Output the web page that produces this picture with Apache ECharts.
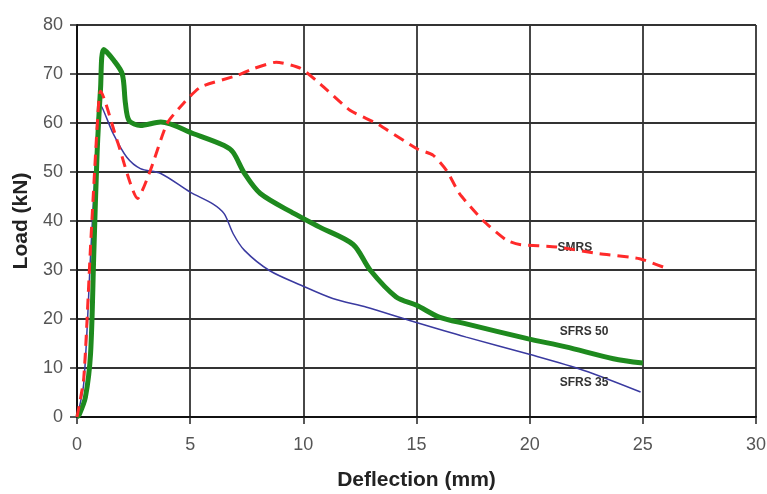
<!DOCTYPE html>
<html>
<head>
<meta charset="utf-8">
<script src="https://cdn.jsdelivr.net/npm/echarts@6/dist/echarts.min.js"></script>
<style>
  html, body { margin: 0; padding: 0; background: #fff; }
  #chart { width: 767px; height: 494px; }
</style>
</head>
<body>
<div id="chart"></div>
<script>
// deflection (mm), load (kN)
var sfrs35 = [
  [0, 0], [0.3, 7], [0.6, 33], [0.85, 54], [1.02, 63.8], [1.6, 57.8], [2.2, 53],
  [2.8, 50.7], [3.7, 49.7], [5.0, 45.9], [6.0, 43.5], [6.5, 41.5], [6.9, 37.4],
  [7.4, 34], [8.5, 29.9], [9.9, 26.9], [11.3, 24.2], [12.8, 22.4], [14.7, 19.7],
  [17.2, 16.3], [19.9, 12.9], [22.4, 9.5], [24.9, 5.1]
];
var sfrs50 = [
  [0, 0], [0.1, 0.5], [0.37, 4], [0.6, 13], [0.74, 33], [0.89, 54], [1.04, 67],
  [1.18, 75], [1.62, 72.8], [2.0, 70], [2.14, 64], [2.3, 60.5], [2.8, 59.5],
  [3.7, 60.2], [5.15, 57.8], [6.5, 55.4], [6.9, 54], [7.4, 49.7], [8.1, 45.6],
  [9.6, 41.5], [10.7, 38.8], [12.2, 35.2], [12.95, 30], [14.1, 24.5], [15.0, 22.8],
  [16.0, 20.4], [17.2, 19], [19.9, 16], [21.6, 14.3], [23.7, 11.9], [25.0, 11.0]
];
var smrs = [
  [0, 0], [0.3, 8], [0.6, 35], [0.9, 60], [1.04, 66.5], [1.8, 56], [2.68, 44.6],
  [3.24, 50.3], [3.98, 59.9], [4.7, 64], [5.45, 67.3], [7.07, 69.7], [7.8, 71.1],
  [8.8, 72.4], [9.86, 71.2], [10.74, 68], [12.06, 62.6], [13.24, 59.9], [15.0, 54.8],
  [15.74, 53.4], [16.33, 50.3], [16.9, 45.6], [17.94, 40.1], [18.97, 36.1],
  [19.56, 35.2], [21.18, 34.7], [23.09, 33.3], [24.86, 32.3], [25.9, 30.6]
];
var seriesNames = ['SFRS 35', 'SFRS 50', 'SMRS'];
var labelAt = [[22.4, 7.1], [22.4, 17.5], [22.0, 34.6]];
var xTicks = [0, 30, 5];
var yTicks = [0, 80, 10];

var chart = echarts.init(document.getElementById('chart'));

function tag(i) {
  return {
    symbol: 'circle', symbolSize: 0, silent: true,
    label: {
      show: true, position: 'inside', color: '#333', fontSize: 12,
      fontWeight: 'bold', fontFamily: 'Liberation Sans', formatter: seriesNames[i]
    },
    data: [{ coord: labelAt[i] }]
  };
}

var axisLabel = { color: '#555', fontSize: 18, fontFamily: 'Liberation Sans' };
var axisName = { color: '#222', fontSize: 21, fontWeight: 'bold', fontFamily: 'Liberation Sans' };

chart.setOption({
  animation: false,
  grid: { left: 77, top: 25, right: 11, bottom: 77, outerBoundsMode: 'none', containLabel: false },
  xAxis: {
    type: 'value', min: xTicks[0], max: xTicks[1], interval: xTicks[2],
    name: 'Deflection (mm)', nameLocation: 'middle', nameGap: 53, nameTextStyle: axisName,
    axisLine: { lineStyle: { color: '#111', width: 2 } },
    axisTick: { show: true, length: 7, lineStyle: { color: '#222', width: 1.5 } },
    axisLabel: Object.assign({ margin: 19 }, axisLabel),
    splitLine: { lineStyle: { color: '#333', width: 1.8 } }
  },
  yAxis: {
    type: 'value', min: yTicks[0], max: yTicks[1], interval: yTicks[2],
    name: 'Load (kN)', nameLocation: 'middle', nameGap: 45, nameTextStyle: axisName,
    axisLine: { show: true, lineStyle: { color: '#111', width: 2 } },
    axisTick: { show: true, length: 7, lineStyle: { color: '#222', width: 1.5 } },
    axisLabel: Object.assign({ margin: 14 }, axisLabel),
    splitLine: { lineStyle: { color: '#333', width: 1.8 } }
  },
  series: [
    {
      name: seriesNames[0], type: 'line', data: sfrs35, showSymbol: false, smooth: 0.3,
      lineStyle: { color: '#3a3aa0', width: 1.5 }, z: 3, markPoint: tag(0)
    },
    {
      name: seriesNames[1], type: 'line', data: sfrs50, showSymbol: false, smooth: 0.3,
      lineStyle: { color: '#1e8a1e', width: 5 }, z: 4, markPoint: tag(1)
    },
    {
      name: seriesNames[2], type: 'line', data: smrs, showSymbol: false, smooth: 0.2,
      lineStyle: { color: '#ff2a2a', width: 3, type: [11, 7] }, z: 5, markPoint: tag(2)
    }
  ]
});
</script>
</body>
</html>
